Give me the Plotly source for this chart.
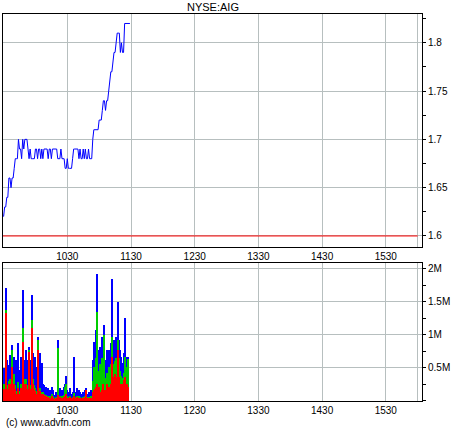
import plotly.graph_objects as go

title_text = "NYSE:AIG"
copyright_text = "(c) www.advfn.com"
prev_close = 1.60
session_open = "0930"
session_close = "1600"

# one price per minute from 09:30
price = [
    1.62, 1.63, 1.63, 1.64, 1.64, 1.66, 1.66, 1.65, 1.66, 1.66,
    1.67, 1.68, 1.68, 1.68, 1.70, 1.69, 1.69, 1.68, 1.70, 1.69,
    1.70, 1.70, 1.70, 1.69, 1.68, 1.69, 1.68, 1.68, 1.68, 1.68,
    1.69, 1.69, 1.68, 1.69, 1.69, 1.68, 1.69, 1.68, 1.69, 1.69,
    1.69, 1.69, 1.68, 1.69, 1.69, 1.68, 1.69, 1.69, 1.69, 1.69,
    1.69, 1.68, 1.68, 1.68, 1.69, 1.68, 1.68, 1.68, 1.67, 1.67,
    1.68, 1.67, 1.67, 1.67, 1.67, 1.68, 1.69, 1.69, 1.69, 1.69,
    1.69, 1.68, 1.69, 1.68, 1.68, 1.69, 1.68, 1.69, 1.68, 1.68,
    1.69, 1.68, 1.68, 1.68, 1.70, 1.71, 1.71, 1.71, 1.71, 1.71,
    1.72, 1.72, 1.72, 1.73, 1.74, 1.74, 1.73, 1.74, 1.74, 1.75,
    1.76, 1.77, 1.77, 1.78, 1.79, 1.79, 1.80, 1.81, 1.81, 1.81,
    1.79, 1.80, 1.79, 1.79, 1.82, 1.82, 1.82, 1.82, 1.82, 1.82,
]

# volume per minute from 09:30, in thousands of shares
vol_total = [
    491, 264, 1699, 616, 415, 541, 692, 491, 843, 566,
    666, 491, 616, 364, 868, 465, 666, 515, 1673, 616,
    465, 767, 314, 616, 817, 515, 616, 1598, 717, 541,
    666, 515, 968, 465, 717, 415, 566, 264, 239, 163,
    213, 137, 189, 113, 163, 113, 213, 163, 88, 137,
    62, 918, 137, 189, 113, 163, 113, 213, 264, 374,
    163, 113, 137, 189, 113, 137, 666, 137, 88, 189,
    113, 163, 137, 113, 88, 137, 113, 163, 189, 113,
    137, 88, 163, 113, 616, 892, 767, 1069, 1915, 767,
    666, 817, 566, 968, 717, 1145, 616, 767, 364, 767,
    566, 868, 1835, 767, 918, 817, 968, 868, 1496, 918,
    767, 666, 566, 717, 1246, 616, 666, 666,
]
vol_green = [
    260, 150, 1371, 240, 110, 300, 330, 230, 767, 200,
    400, 240, 150, 110, 280, 150, 260, 200, 1095, 330,
    230, 330, 150, 240, 767, 240, 200, 1220, 330, 240,
    200, 150, 918, 150, 200, 120, 140, 130, 100, 80,
    90, 70, 80, 60, 70, 60, 100, 70, 50, 60,
    40, 793, 60, 80, 60, 70, 50, 90, 213, 264,
    70, 60, 60, 80, 50, 60, 120, 60, 40, 80,
    60, 70, 60, 50, 40, 60, 50, 80, 170, 60,
    60, 40, 70, 50, 300, 520, 380, 650, 1345, 460,
    380, 560, 300, 650, 420, 1000, 340, 420, 220, 520,
    300, 560, 968, 420, 560, 600, 650, 460, 918, 650,
    460, 380, 340, 420, 666, 380, 520, 641,
]
vol_red = [
    180, 110, 1321, 180, 80, 250, 250, 180, 515, 150,
    250, 180, 110, 80, 200, 110, 200, 150, 892, 250,
    180, 250, 110, 180, 740, 180, 150, 1095, 250, 180,
    150, 110, 767, 110, 150, 100, 110, 113, 88, 62,
    70, 50, 60, 40, 50, 40, 70, 50, 30, 40,
    30, 88, 40, 60, 40, 50, 40, 60, 80, 100,
    50, 40, 40, 60, 40, 40, 80, 40, 30, 60,
    40, 50, 40, 40, 30, 40, 40, 60, 163, 40,
    40, 30, 50, 40, 137, 163, 188, 213, 264, 163,
    213, 113, 137, 163, 264, 113, 163, 264, 137, 213,
    163, 264, 666, 364, 213, 415, 364, 264, 767, 364,
    264, 213, 264, 314, 364, 213, 264, 213,
]

x_tick_labels = ["1030", "1130", "1230", "1330", "1430", "1530"]
price_ticks = [1.6, 1.65, 1.7, 1.75, 1.8]
price_tick_labels = ["1.6", "1.65", "1.7", "1.75", "1.8"]
vol_ticks = [500000, 1000000, 1500000, 2000000]
vol_tick_labels = ["0.5M", "1M", "1.5M", "2M"]


def to_min(hhmm):
    return int(hhmm[:2]) * 60 + int(hhmm[2:])


t0 = to_min(session_open)
t_close = to_min(session_close)
t_price = [t0 + i for i in range(len(price))]
t_vol = [t0 + i for i in range(len(vol_total))]
x_tickvals = [to_min(s) for s in x_tick_labels] + [t_close]
x_ticktext = x_tick_labels + [""]

FONT = "Liberation Sans"
GRID = "#b7bfbf"

fig = go.Figure()
fig.add_trace(go.Scatter(x=[t0 - 1, t_close], y=[prev_close, prev_close], mode="lines",
                         line=dict(color="#ff0000", width=1), xaxis="x", yaxis="y",
                         hoverinfo="skip"))
fig.add_trace(go.Scatter(x=t_price, y=price, mode="lines",
                         line=dict(color="#0000ff", width=1), xaxis="x", yaxis="y"))
for vals, col in [(vol_total, "#0000ff"), (vol_green, "#00cc00"), (vol_red, "#ff0000")]:
    fig.add_trace(go.Bar(x=t_vol, y=[v * 1000 for v in vals], marker_color=col,
                         marker_line_width=0, xaxis="x2", yaxis="y2"))

xcommon = dict(range=[569.44, 964.1], tickvals=x_tickvals, ticktext=x_ticktext,
               showgrid=True, gridcolor=GRID, gridwidth=1, showline=True, mirror=True,
               linecolor="black", linewidth=1, ticks="", zeroline=False,
               tickfont=dict(family=FONT, size=10, color="black"))
ycommon = dict(side="right", showgrid=True, gridcolor=GRID, gridwidth=1, showline=True,
               mirror=True, linecolor="black", linewidth=1, ticks="outside", ticklen=3,
               tickcolor="black", zeroline=False,
               tickfont=dict(family=FONT, size=10, color="black"))

fig.update_layout(
    width=460, height=430,
    margin=dict(l=3, r=38, t=14, b=29),
    paper_bgcolor="white", plot_bgcolor="white",
    showlegend=False, barmode="overlay", bargap=0,
    xaxis=dict(anchor="y", **xcommon),
    xaxis2=dict(anchor="y2", matches="x", **xcommon),
    yaxis=dict(domain=[0.398, 1], range=[1.5886, 1.8298], tickvals=price_ticks,
               ticktext=price_tick_labels,
               minor=dict(ticks="outside", ticklen=3, tickcolor="black", dtick=0.025,
                          tick0=1.6, showgrid=False),
               **ycommon),
    yaxis2=dict(domain=[0, 0.3566], range=[0, 2.082e6], tickvals=vol_ticks,
                ticktext=vol_tick_labels,
                minor=dict(ticks="outside", ticklen=3, tickcolor="black", dtick=250000,
                           tick0=0, showgrid=False),
                **ycommon),
    annotations=[
        dict(text=title_text, xref="paper", yref="paper", x=0.5, y=1.018,
             xanchor="center", yanchor="middle", showarrow=False,
             font=dict(family=FONT, size=11, color="black")),
        dict(text=copyright_text, xref="paper", yref="paper", x=0.0024, y=-0.0568,
             xanchor="left", yanchor="middle", showarrow=False,
             font=dict(family=FONT, size=10, color="black")),
    ],
)

fig.write_html("out.html", config={"displayModeBar": False},
               post_script="document.body.style.margin='0';")
